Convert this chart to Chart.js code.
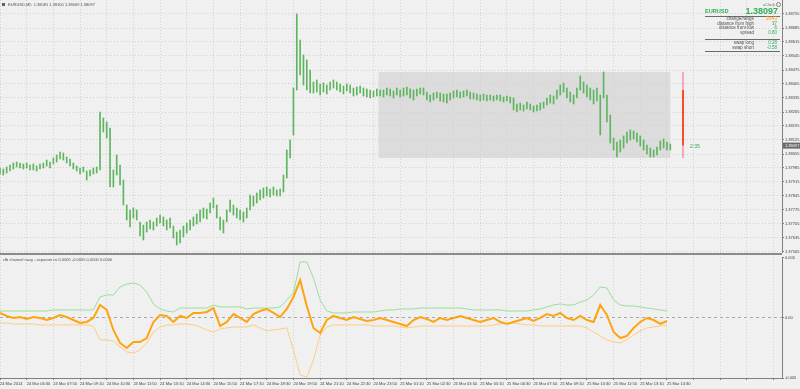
<!DOCTYPE html>
<html>
<head>
<meta charset="utf-8">
<script src="https://cdn.jsdelivr.net/npm/chart.js@4.4.0/dist/chart.umd.min.js"></script>
<style>
    body { margin: 0; width: 800px; height: 389px; overflow: hidden; position: relative;
           background: #f0f0f0; font-family: "Liberation Sans", Arial, sans-serif; }
    canvas { position: absolute; left: 0; }
    #main { top: 0; }
    #ind { top: 255px; }
    .t { position: absolute; white-space: nowrap; line-height: 1; }
    .sm { font-size: 4px; color: #505050; }
    .lbl { font-size: 4.5px; color: #505050; right: 46px; }
    .val { font-size: 4.5px; color: #2fae5a; right: 23px; }
    .rule { position: absolute; left: 705px; width: 75px; height: 1px; background: #6a6a6a; }
</style>
</head>
<body>

<canvas id="main" width="800" height="253"></canvas>
<div style="position:absolute;left:0;top:253px;width:782px;height:2px;background:#8a8a8a"></div>
<canvas id="ind" width="800" height="134"></canvas>

<!-- header / indicator titles -->
<div style="position:absolute;left:2px;top:3px;width:3px;height:3px;background:#606060"></div>
<div class="t sm" style="left:8px;top:2.8px">EURUSD,M5&nbsp; 1.38081 1.38100 1.38069 1.38097</div>
<div class="t sm" style="left:3px;top:257.5px">cfb channel navy - separate rsi 0.0005 -0.0005 0.0000 0.0000</div>

<!-- info panel -->
<div class="t sm" style="left:763px;top:2.5px;color:#707070">aClock</div>
<div style="position:absolute;left:775.5px;top:2px;width:3px;height:3px;border:0.8px solid #808080;border-radius:50%"></div>
<div class="t" style="left:705px;top:9px;font-size:5.6px;font-weight:bold;color:#2fae5a">EURUSD</div>
<div class="t" style="right:22px;top:7px;font-size:9px;font-weight:bold;color:#2fae5a">1.38097</div>
<div class="rule" style="top:16px"></div>
<div class="t lbl" style="top:16.8px">change/range</div>
<div class="t val" style="top:16.8px;color:#ff9a1a">28/43</div>
<div class="t lbl" style="top:21.5px">distance from high</div>
<div class="t val" style="top:21.5px">37</div>
<div class="t lbl" style="top:26px">distance from low</div>
<div class="t val" style="top:26px">6</div>
<div class="t lbl" style="top:30.8px">spread</div>
<div class="t val" style="top:30.8px">0.80</div>
<div class="rule" style="top:39px"></div>
<div class="t lbl" style="top:41px">swap long</div>
<div class="t val" style="top:41px">0.28</div>
<div class="t lbl" style="top:45.8px">swap short</div>
<div class="t val" style="top:45.8px">-0.58</div>
<div class="rule" style="top:51px"></div>
<div class="t" style="left:690px;top:143.5px;font-size:5px;color:#2fae5a">2:35</div>

<script>
/* ============================================================
   DATA
============================================================ */

const FONT = '"Liberation Sans", Arial, sans-serif';

// time axis: one label every 16 five-minute bars
const timeLabels = [
    "24 Mar 2014", "24 Mar 06:30", "24 Mar 07:50", "24 Mar 09:10", "24 Mar 10:30",
    "24 Mar 11:50", "24 Mar 13:10", "24 Mar 14:30", "24 Mar 15:50", "24 Mar 17:10",
    "24 Mar 18:30", "24 Mar 19:50", "24 Mar 21:10", "24 Mar 22:30", "24 Mar 23:50",
    "25 Mar 01:10", "25 Mar 02:30", "25 Mar 03:50", "25 Mar 05:10", "25 Mar 06:30",
    "25 Mar 07:50", "25 Mar 09:10", "25 Mar 10:30", "25 Mar 11:50", "25 Mar 13:10",
    "25 Mar 14:30"
];
const barsPerLabel = 16;
const xMax = 469;          // visible bars incl. chart shift
const priceStep = 2;       // one drawn bar per 2 chart bars
const indStep = 4;         // one indicator sample per 4 chart bars

const priceHighs = [
    1.37985, 1.37980, 1.37990, 1.38000, 1.38010, 1.38015, 1.38010, 1.38005, 1.38010, 1.38000,
    1.38005, 1.37995, 1.38005, 1.38010, 1.38025, 1.38015, 1.38035, 1.38050, 1.38065, 1.38060,
    1.38040, 1.38030, 1.38010, 1.37995, 1.37985, 1.37990, 1.37970, 1.37975, 1.37985, 1.37990,
    1.38265, 1.38235, 1.38215, 1.38185, 1.37975, 1.38050, 1.38000, 1.37925, 1.37800, 1.37775,
    1.37785, 1.37775, 1.37715, 1.37700, 1.37715, 1.37725, 1.37715, 1.37735, 1.37750, 1.37740,
    1.37725, 1.37735, 1.37695, 1.37665, 1.37675, 1.37695, 1.37710, 1.37725, 1.37740, 1.37755,
    1.37775, 1.37785, 1.37780, 1.37810, 1.37835, 1.37800, 1.37740, 1.37725, 1.37775, 1.37825,
    1.37800, 1.37785, 1.37775, 1.37765, 1.37785, 1.37850, 1.37845, 1.37860, 1.37875, 1.37885,
    1.37890, 1.37880, 1.37890, 1.37875, 1.37880, 1.37950, 1.38075, 1.38125, 1.38385, 1.38755,
    1.38625, 1.38550, 1.38525, 1.38475, 1.38415, 1.38425, 1.38405, 1.38410, 1.38400, 1.38415,
    1.38425, 1.38415, 1.38405, 1.38395, 1.38405, 1.38400, 1.38385, 1.38390, 1.38395, 1.38385,
    1.38380, 1.38375, 1.38370, 1.38380, 1.38375, 1.38375, 1.38385, 1.38380, 1.38370, 1.38385,
    1.38375, 1.38385, 1.38390, 1.38380, 1.38375, 1.38380, 1.38385, 1.38385, 1.38365, 1.38350,
    1.38360, 1.38365, 1.38360, 1.38355, 1.38355, 1.38360, 1.38370, 1.38375, 1.38365, 1.38370,
    1.38375, 1.38365, 1.38360, 1.38355, 1.38350, 1.38355, 1.38350, 1.38350, 1.38345, 1.38350,
    1.38350, 1.38340, 1.38345, 1.38340, 1.38335, 1.38305, 1.38310, 1.38300, 1.38315, 1.38305,
    1.38295, 1.38300, 1.38310, 1.38315, 1.38335, 1.38350, 1.38345, 1.38375, 1.38400, 1.38410,
    1.38385, 1.38365, 1.38350, 1.38385, 1.38445, 1.38415, 1.38400, 1.38385, 1.38375, 1.38385,
    1.38350, 1.38465, 1.38350, 1.38250, 1.38135, 1.38115, 1.38125, 1.38145, 1.38165, 1.38175,
    1.38170, 1.38160, 1.38145, 1.38125, 1.38100, 1.38085, 1.38075, 1.38090, 1.38120, 1.38130,
    1.38115, 1.38105
];

const priceLows = [
    1.37955, 1.37950, 1.37960, 1.37970, 1.37980, 1.37990, 1.37985, 1.37980, 1.37985, 1.37975,
    1.37975, 1.37970, 1.37980, 1.37985, 1.37995, 1.37985, 1.38005, 1.38015, 1.38030, 1.38025,
    1.38010, 1.37995, 1.37980, 1.37970, 1.37955, 1.37965, 1.37925, 1.37945, 1.37955, 1.37960,
    1.37975, 1.38165, 1.38135, 1.37890, 1.37890, 1.37950, 1.37900, 1.37800, 1.37725, 1.37690,
    1.37735, 1.37725, 1.37645, 1.37625, 1.37665, 1.37680, 1.37675, 1.37695, 1.37710, 1.37695,
    1.37675, 1.37685, 1.37635, 1.37600, 1.37610, 1.37640, 1.37660, 1.37675, 1.37695, 1.37705,
    1.37715, 1.37735, 1.37730, 1.37760, 1.37785, 1.37735, 1.37675, 1.37660, 1.37715, 1.37765,
    1.37750, 1.37735, 1.37725, 1.37715, 1.37735, 1.37775, 1.37795, 1.37810, 1.37825, 1.37835,
    1.37845, 1.37840, 1.37850, 1.37845, 1.37845, 1.37865, 1.37935, 1.38035, 1.38150, 1.38375,
    1.38450, 1.38400, 1.38375, 1.38360, 1.38360, 1.38365, 1.38350, 1.38365, 1.38355, 1.38375,
    1.38385, 1.38375, 1.38365, 1.38355, 1.38370, 1.38360, 1.38345, 1.38350, 1.38360, 1.38345,
    1.38340, 1.38335, 1.38340, 1.38345, 1.38345, 1.38340, 1.38350, 1.38345, 1.38335, 1.38350,
    1.38340, 1.38345, 1.38350, 1.38335, 1.38325, 1.38345, 1.38355, 1.38350, 1.38325, 1.38315,
    1.38325, 1.38335, 1.38320, 1.38315, 1.38310, 1.38325, 1.38335, 1.38340, 1.38335, 1.38340,
    1.38345, 1.38330, 1.38330, 1.38325, 1.38320, 1.38325, 1.38320, 1.38325, 1.38320, 1.38325,
    1.38320, 1.38315, 1.38320, 1.38310, 1.38275, 1.38265, 1.38275, 1.38270, 1.38280, 1.38275,
    1.38265, 1.38270, 1.38275, 1.38285, 1.38300, 1.38310, 1.38305, 1.38330, 1.38350, 1.38365,
    1.38335, 1.38315, 1.38305, 1.38335, 1.38375, 1.38360, 1.38340, 1.38325, 1.38305, 1.38320,
    1.38150, 1.38335, 1.38215, 1.38110, 1.38075, 1.38040, 1.38065, 1.38085, 1.38110, 1.38125,
    1.38130, 1.38115, 1.38095, 1.38075, 1.38055, 1.38040, 1.38040, 1.38050, 1.38075, 1.38085,
    1.38075, 1.38075
];

const lastPrice = 1.38097;
const priceMin = 1.37560;
const priceMax = 1.38825;
const priceTicks = [
    1.37565, 1.37635, 1.37705, 1.37775, 1.37845, 1.37915, 1.37985, 1.38055, 1.38125,
    1.38195, 1.38265, 1.38335, 1.38405, 1.38475, 1.38545, 1.38615, 1.38685, 1.38755
];

// range rectangle and bar timer
const boxStartBar = 227;
const boxEndBar = 402;
const boxHigh = 1.38465;
const boxLow = 1.38035;
const timerBar = 409.5;
const timerTop = 1.38375;

// indicator window
const chanHigh = [
    0.00058, 0.00058, 0.00058, 0.00058, 0.00058, 0.00058, 0.00058, 0.00058, 0.00067, 0.00067,
    0.00067, 0.00067, 0.00067, 0.00067, 0.00067,
    0.00175, 0.00192, 0.00192, 0.00258, 0.00283, 0.00292, 0.00275, 0.00217, 0.00117, 0.00075,
    0.00058, 0.0005, 0.00083, 0.00083, 0.00083, 0.00083, 0.00083, 0.00108, 0.00092, 0.00092,
    0.00092, 0.00092, 0.00075, 0.00083, 0.00083, 0.00083, 0.00083, 0.00092, 0.0015, 0.00208,
    0.00467, 0.00467, 0.00333, 0.0015, 0.00058, 0.00042, 0.00042, 0.00042, 0.0005, 0.0005,
    0.0005, 0.0005, 0.00058, 0.00067, 0.00067, 0.00075, 0.00075, 0.00075, 0.00083, 0.00083,
    0.00083, 0.00083, 0.00083, 0.00083, 0.00083, 0.00075, 0.00067, 0.00067, 0.00067, 0.00067,
    0.00067, 0.00058, 0.00058, 0.00058, 0.00058, 0.00067, 0.00075, 0.00092, 0.00108, 0.00117,
    0.00108, 0.00108, 0.00133, 0.0015, 0.00192, 0.00258, 0.0025, 0.0015, 0.00108, 0.001,
    0.001, 0.00092, 0.00083, 0.00075, 0.00067, 0.00058
];

const chanLow = [
    -0.00042, -0.00042, -0.0005, -0.0005, -0.0005, -0.0005, -0.00058, -0.00058, -0.00058, -0.00058,
    -0.00058, -0.00058, -0.00058, -0.00058, -0.00067,
    -0.00183, -0.00183, -0.00192, -0.00242, -0.00283, -0.00292, -0.00267, -0.00208, -0.00117, -0.00075,
    -0.00058, -0.00058, -0.0005, -0.0005, -0.00058, -0.00075, -0.001, -0.00117, -0.00092, -0.00083,
    -0.00075, -0.00075, -0.00075, -0.00058, -0.00083, -0.00108, -0.001, -0.00092, -0.00083, -0.00267,
    -0.00475, -0.00492, -0.0035, -0.00142, -0.00075, -0.00058, -0.00058, -0.00058, -0.00058, -0.00058,
    -0.00058, -0.00067, -0.00067, -0.00067, -0.00067, -0.00075, -0.00083, -0.00075, -0.00067, -0.00067,
    -0.00067, -0.00067, -0.00067, -0.00067, -0.00067, -0.00067, -0.00067, -0.00067, -0.00067, -0.00058,
    -0.0005, -0.00042, -0.00042, -0.0005, -0.00058, -0.00058, -0.00067, -0.00067, -0.00067, -0.00067,
    -0.00067, -0.00067, -0.00067, -0.00083, -0.00117, -0.0015, -0.00183, -0.002, -0.00208, -0.00183,
    -0.00142, -0.00108, -0.00083, -0.00075, -0.00067, -0.00058
];

const rsiLine = [
    0.00042, 0.00017, 0, 0.00008, -0.00008, 0.00008, 0, -0.00017, 0, 0.00025,
    0.00008, -0.00017, -0.00042, -0.00033, 0,
    0.00108, 0.00067, -0.001, -0.00208, -0.0025, -0.002, -0.002, -0.00167, -0.00033, 0.00025,
    0.00017, -0.00033, 0.00017, 0, 0.00042, 0.00042, 0.0005, 0.00083, -0.00067, -0.00033,
    0.00033, 0, -0.00033, 0.00033, 0.00058, 0.00075, 0.00042, 0.00008, 0.00075, 0.00175,
    0.00317, 0.001, -0.00083, -0.00125, -0.00017, 0.00017, 0, -0.00017, 0.00008, -0.00008,
    -0.00025, -0.00017, 0, -0.00017, -0.00033, -0.0005, -0.00067, -0.00017, 0.00008, -0.00008,
    -0.00033, 0, -0.00017, 0, 0.00017, 0, -0.00017, -0.00033, -0.00017, 0,
    -0.00033, -0.0005, -0.00033, -0.00017, 0, -0.00025, 0, 0.00033, 0.00017, 0.00042,
    0, -0.00017, 0.00017, -0.00017, -0.00033, 0.00108, 0.00025, -0.00117, -0.00167, -0.0015,
    -0.00083, -0.00033, 0, -0.00017, -0.0005, -0.00025
];

const indTicks = [-0.005, 0, 0.005];
const indTickLabels = ["-0.005", "0.00", "0.005"];

/* ============================================================
   HELPERS
============================================================ */

const gridBars = Array.from({ length: 30 }, (_, i) => i * barsPerLabel);

function toPoints(arr, step) {
    return arr.map((v, i) => ({ x: i * step, y: v }));
}

/* ============================================================
   PRICE WINDOW
============================================================ */

const mainDecor = {
    id: "mainDecor",
    beforeDraw(chart) {
        const { ctx, scales: { x, y } } = chart;
        const x1 = x.getPixelForValue(boxStartBar);
        const x2 = x.getPixelForValue(boxEndBar);
        const y1 = y.getPixelForValue(boxHigh);
        const y2 = y.getPixelForValue(boxLow);
        ctx.save();
        ctx.fillStyle = "#dcdcdc";
        ctx.fillRect(x1, y1, x2 - x1, y2 - y1);
        ctx.restore();
    },
    afterDraw(chart) {
        const { ctx, scales: { x, y } } = chart;
        const tx = Math.round(x.getPixelForValue(timerBar));
        ctx.save();
        // bar timer
        ctx.strokeStyle = "#f5a8bd";
        ctx.lineWidth = 2;
        ctx.beginPath();
        ctx.moveTo(tx, y.getPixelForValue(boxHigh));
        ctx.lineTo(tx, y.getPixelForValue(boxLow));
        ctx.stroke();
        ctx.strokeStyle = "#ff4a26";
        ctx.beginPath();
        ctx.moveTo(tx, y.getPixelForValue(timerTop));
        ctx.lineTo(tx, y.getPixelForValue(lastPrice));
        ctx.stroke();
        // current price tag on the axis
        const py = y.getPixelForValue(lastPrice);
        ctx.fillStyle = "#6a6a6a";
        ctx.fillRect(x.right + 1, py - 3, chart.width - x.right - 1, 6);
        ctx.fillStyle = "#ffffff";
        ctx.font = "4px " + FONT;
        ctx.textBaseline = "middle";
        ctx.fillText(lastPrice.toFixed(5), x.right + 3, py + 0.3);
        ctx.restore();
    }
};

new Chart(document.getElementById("main"), {
    type: "bar",
    data: {
        datasets: [{
            data: priceLows.map((lo, i) => ({ x: i * priceStep, y: [lo, priceHighs[i]] })),
            backgroundColor: "#5fb55f",
            borderWidth: 0,
            barThickness: 1,
            grouped: false
        }]
    },
    options: {
        responsive: false,
        animation: false,
        devicePixelRatio: 1,
        layout: { padding: 0 },
        plugins: { legend: { display: false }, tooltip: { enabled: false } },
        scales: {
            x: {
                type: "linear",
                min: 0,
                max: xMax,
                offset: false,
                afterBuildTicks: s => { s.ticks = gridBars.map(v => ({ value: v })); },
                ticks: { display: false },
                grid: { color: "#d2d2d2", drawTicks: false, offset: false },
                border: { display: false, dash: [1, 2] },
                afterFit: s => { s.height = 0; s.paddingLeft = 0; s.paddingRight = 0; }
            },
            y: {
                position: "right",
                min: priceMin,
                max: priceMax,
                afterBuildTicks: s => { s.ticks = priceTicks.map(v => ({ value: v })); },
                ticks: {
                    font: { family: FONT, size: 4 },
                    color: "#3c3c3c",
                    padding: 1,
                    callback: v => v.toFixed(5)
                },
                grid: { color: "#d2d2d2", tickLength: 2, tickColor: "#808080" },
                border: { display: true, color: "#808080", dash: [1, 2] },
                afterFit: s => { s.width = 18; s.paddingTop = 0; s.paddingBottom = 0; }
            }
        }
    },
    plugins: [mainDecor]
});

/* ============================================================
   INDICATOR WINDOW
============================================================ */

new Chart(document.getElementById("ind"), {
    type: "line",
    data: {
        datasets: [
            { data: toPoints(rsiLine, indStep), borderColor: "#ffa40f", borderWidth: 2 },
            { data: toPoints(chanHigh, indStep), borderColor: "#98e098", borderWidth: 1 },
            { data: toPoints(chanLow, indStep), borderColor: "#ffcb80", borderWidth: 1 }
        ]
    },
    options: {
        responsive: false,
        animation: false,
        devicePixelRatio: 1,
        layout: { padding: { top: 2 } },
        elements: { point: { radius: 0 }, line: { tension: 0 } },
        plugins: { legend: { display: false }, tooltip: { enabled: false } },
        scales: {
            x: {
                type: "linear",
                min: 0,
                max: xMax,
                afterBuildTicks: s => { s.ticks = gridBars.map(v => ({ value: v })); },
                ticks: {
                    autoSkip: false,
                    maxRotation: 0,
                    align: "start",
                    padding: 1,
                    font: { family: FONT, size: 4 },
                    color: "#3c3c3c",
                    callback: (v, i) => timeLabels[i] || ""
                },
                grid: { color: "#d2d2d2", tickLength: 2, tickColor: "#808080" },
                border: { display: true, color: "#808080", dash: [1, 2] },
                afterFit: s => { s.height = 11; s.paddingLeft = 0; s.paddingRight = 0; }
            },
            y: {
                position: "right",
                min: -0.005,
                max: 0.00508,
                afterBuildTicks: s => { s.ticks = indTicks.map(v => ({ value: v })); },
                ticks: {
                    font: { family: FONT, size: 4 },
                    color: "#3c3c3c",
                    padding: 1,
                    callback: v => indTickLabels[indTicks.indexOf(v)]
                },
                grid: {
                    color: c => (c.tick && c.tick.value === 0 ? "#a8a8a8" : "transparent"),
                    tickLength: 2,
                    tickColor: "#808080"
                },
                border: { display: true, color: "#808080", dash: [3, 3] },
                afterFit: s => { s.width = 18; s.paddingTop = 0; s.paddingBottom = 0; }
            }
        }
    }
});
</script>
</body>
</html>
